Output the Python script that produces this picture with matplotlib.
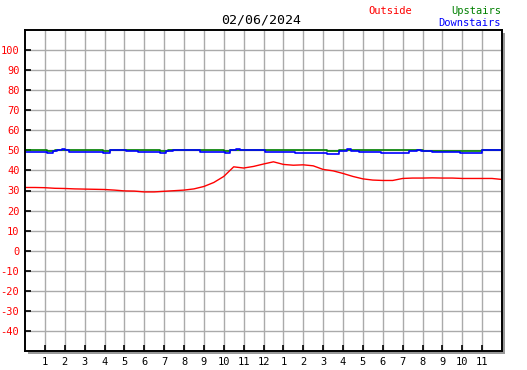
import matplotlib
matplotlib.use('Agg')
import matplotlib.pyplot as plt
from matplotlib.patches import Rectangle

# Outside temperature, half-hourly from midnight
outside_hours = [i * 0.5 for i in range(49)]
outside_temp = [31.5, 31.5, 31.4, 31.1, 31.0, 30.8, 30.7, 30.6, 30.5, 30.2,
                29.8, 29.7, 29.3, 29.3, 29.6, 29.9, 30.2, 30.8, 32.0, 34.0,
                37.0, 41.8, 41.2, 42.0, 43.2, 44.3, 43.0, 42.6, 42.8, 42.3,
                40.5, 39.8, 38.5, 37.0, 35.8, 35.2, 35.0, 35.0, 36.0, 36.2,
                36.2, 36.3, 36.2, 36.2, 36.0, 36.0, 36.0, 36.0, 35.5]

# Upstairs
up_hours = [0, 1.0, 1.1, 1.5, 3.9, 4.3, 6.8, 7.2, 10.0, 10.3, 10.6, 10.8,
            15.2, 15.8, 20.0, 21.9, 23.0, 24.0]
up_temp = [50.0, 50.0, 49.6, 50.0, 49.6, 50.0, 49.6, 50.0, 49.6, 50.0, 50.3, 50.0,
           49.8, 50.0, 49.6, 49.6, 50.0, 50.0]

# Downstairs
down_hours = [0.0, 1.0, 1.1, 1.4, 1.6, 1.85, 2.0, 2.2, 2.85, 3.9, 4.3, 5.1, 5.7,
              6.8, 7.1, 7.45, 8.8, 10.05, 10.3, 10.6, 10.8, 12.1, 13.6, 15.2,
              15.8, 16.2, 16.4, 16.8, 17.9, 19.3, 19.7, 19.9, 20.5, 21.9, 23.0, 24.0]
down_temp = [49.0, 49.0, 48.5, 49.5, 50.0, 50.5, 50.0, 49.3, 49.0, 48.5, 50.0, 49.5, 49.0,
             48.5, 49.5, 50.0, 49.0, 48.5, 50.0, 50.5, 50.0, 49.0, 48.5, 48.0,
             49.5, 50.5, 49.5, 49.0, 48.5, 49.5, 50.0, 49.5, 49.0, 48.5, 50.0, 50.0]

y_ticks = list(range(-40, 101, 10))
x_ticks = list(range(1, 24))
x_labels = [str(h if h <= 12 else h - 12) for h in x_ticks]

font = 'DejaVu Sans Mono'
W, H = 527, 370
fig = plt.figure(figsize=(W / 100, H / 100), dpi=100, facecolor='white')
left, right, top, bottom = 25, 502, 30, 351
ax = fig.add_axes([left / W, (H - bottom) / H, (right - left) / W, (bottom - top) / H])

# drop shadow
fig.patches.append(Rectangle(((left + 3) / W, (H - bottom - 2.5) / H), (right - left) / W,
                             (bottom - top) / H, transform=fig.transFigure,
                             facecolor='#999999', edgecolor='none', zorder=0))
ax.set_zorder(1)

ax.set_xlim(0, 24)
ax.set_ylim(-50, 110)
ax.set_yticks(y_ticks)
ax.set_xticks(x_ticks)
ax.set_xticklabels(x_labels, fontfamily=font, fontsize=7.5)
ax.set_yticklabels([str(v) for v in y_ticks], fontfamily=font, fontsize=7.5, color='red')
ax.tick_params(direction='in', length=4, width=1.2, color='black', pad=4)
ax.grid(True, color='#aaaaaa', linewidth=1)
ax.set_axisbelow(True)
for s in ax.spines.values():
    s.set_linewidth(1.4)
    s.set_color('black')

ax.plot(outside_hours, outside_temp, color='red', linewidth=1)
ax.plot(up_hours, up_temp, color='green', linewidth=1.2, drawstyle='steps-post')
ax.plot(down_hours, down_temp, color='blue', linewidth=1.2, drawstyle='steps-post')

fig.text(261 / W, 1 - 20 / H, '02/06/2024', ha='center', va='center', fontfamily=font, fontsize=9.5)
fig.text(390 / W, 1 - 11 / H, 'Outside', ha='center', va='center', fontfamily=font, fontsize=7.5, color='red')
fig.text(501 / W, 1 - 11 / H, 'Upstairs', ha='right', va='center', fontfamily=font, fontsize=7.5, color='green')
fig.text(501 / W, 1 - 23 / H, 'Downstairs', ha='right', va='center', fontfamily=font, fontsize=7.5, color='blue')

fig.savefig('out.png', dpi=100, facecolor='white')
